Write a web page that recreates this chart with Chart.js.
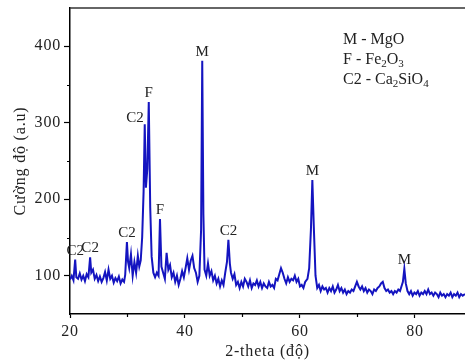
<!DOCTYPE html>
<html>
<head>
<meta charset="utf-8">
<script src="https://cdn.jsdelivr.net/npm/chart.js@4"></script>
<style>
  html, body { margin: 0; padding: 0; background: #fff; }
  #wrap { width: 465px; height: 363px; }
</style>
</head>
<body>
<div id="wrap"><canvas id="xrd" width="465" height="363"></canvas></div>
<script>
// XRD pattern (2-theta in degrees, intensity in a.u.)
const twoTheta = [
  20.0, 20.3, 20.6, 20.9, 21.1, 21.4, 21.7, 22.0, 22.3, 22.6,
  22.9, 23.2, 23.5, 23.7, 24.0, 24.3, 24.6, 24.9, 25.2, 25.5,
  25.8, 26.1, 26.4, 26.7, 27.0, 27.3, 27.6, 27.9, 28.2, 28.5,
  28.8, 29.1, 29.4, 29.6, 29.9, 30.1, 30.3, 30.6, 30.9, 31.2,
  31.5, 31.8, 32.05, 32.3, 32.55, 32.8, 33.0, 33.2, 33.45, 33.7,
  33.95, 34.2, 34.5, 34.8, 35.1, 35.4, 35.65, 35.9, 36.2, 36.5,
  36.8, 37.1, 37.4, 37.7, 38.0, 38.3, 38.6, 38.9, 39.2, 39.5,
  39.8, 40.1, 40.4, 40.7, 41.0, 41.3, 41.6, 41.9, 42.2, 42.5,
  42.8, 43.0, 43.2, 43.4, 43.7, 44.0, 44.3, 44.6, 44.9, 45.2,
  45.5, 45.8, 46.1, 46.4, 46.7, 47.0, 47.3, 47.55, 47.8, 48.0,
  48.3, 48.6, 48.9, 49.2, 49.5, 49.8, 50.1, 50.4, 50.7, 51.0,
  51.3, 51.6, 51.9, 52.2, 52.5, 52.8, 53.1, 53.4, 53.7, 54.0,
  54.3, 54.6, 54.9, 55.2, 55.5, 55.8, 56.1, 56.4, 56.7, 57.0,
  57.3, 57.6, 57.9, 58.2, 58.5, 58.8, 59.1, 59.4, 59.7, 60.0,
  60.3, 60.6, 60.9, 61.3, 61.6, 61.9, 62.15, 62.4, 62.7, 63.0,
  63.3, 63.6, 63.9, 64.2, 64.5, 64.8, 65.1, 65.4, 65.7, 66.0,
  66.3, 66.6, 66.9, 67.2, 67.5, 67.8, 68.1, 68.4, 68.7, 69.0,
  69.3, 69.6, 69.9, 70.2, 70.5, 70.8, 71.1, 71.4, 71.7, 72.0,
  72.3, 72.6, 72.9, 73.2, 73.5, 73.8, 74.1, 74.4, 74.7, 75.0,
  75.3, 75.6, 75.9, 76.2, 76.5, 76.8, 77.1, 77.4, 77.9, 78.15,
  78.4, 78.7, 79.0, 79.3, 79.6, 79.9, 80.2, 80.5, 80.8, 81.1,
  81.4, 81.7, 82.0, 82.3, 82.6, 82.9, 83.2, 83.5, 83.8, 84.1,
  84.4, 84.7, 85.0, 85.3, 85.6, 85.9, 86.2, 86.5, 86.8, 87.1,
  87.4, 87.7, 88.0, 88.3, 88.7
];
const intensity = [
  95, 100, 94, 121, 98, 96, 103, 95, 100, 93,
  102, 98, 124, 104, 108, 96, 101, 93, 99, 92,
  97, 105, 94, 108, 96, 100, 91, 97, 93, 99,
  90, 95, 92, 101, 144, 118, 110, 128, 100, 118,
  104, 126, 112, 120, 150, 210, 298, 215, 240, 327,
  190, 125, 104, 98, 104, 100, 174, 112, 104, 96,
  130, 108, 114, 98, 104, 92, 100, 88, 96, 106,
  98, 110, 123, 108, 120, 126, 110, 104, 92, 100,
  160, 381, 180, 108, 100, 116, 100, 106, 94, 100,
  90, 96, 86, 94, 88, 104, 118, 147, 116, 104,
  96, 102, 88, 92, 84, 92, 86, 96, 92, 86,
  94, 84, 90, 88, 94, 86, 92, 84, 90, 86,
  84, 92, 86, 88, 84, 96, 94, 102, 110, 104,
  96, 90, 98, 92, 96, 94, 100, 92, 96, 86,
  88, 84, 92, 96, 110, 160, 225, 165, 100, 84,
  88, 80, 86, 82, 84, 78, 84, 80, 86, 78,
  82, 88, 80, 84, 78, 82, 76, 80, 78, 82,
  80, 86, 92, 86, 82, 86, 80, 84, 78, 82,
  80, 76, 82, 80, 84, 86, 90, 92, 84, 80,
  82, 78, 80, 76, 80, 78, 82, 80, 92, 109,
  90, 80, 76, 80, 74, 78, 76, 80, 74, 78,
  76, 80, 76, 82, 76, 78, 74, 78, 76, 72,
  78, 74, 76, 72, 76, 74, 78, 72, 76, 74,
  78, 72, 76, 74, 76
];

const xTicks = [20, 40, 60, 80];
const xMinorTicks = [30, 50, 70];
const yTicks = [100, 200, 300, 400];
const yMinorTicks = [150, 250, 350];

// phase marks above the peaks
const peakLabels = [
  { text: 'C2', theta: 20.9, value: 121 },
  { text: 'C2', theta: 23.5, value: 124 },
  { text: 'C2', theta: 29.9, value: 144 },
  { text: 'C2', theta: 33.0, value: 298, side: 'left' },
  { text: 'F', theta: 33.7, value: 327 },
  { text: 'F', theta: 35.65, value: 174 },
  { text: 'M', theta: 43.0, value: 381 },
  { text: 'C2', theta: 47.55, value: 147 },
  { text: 'M', theta: 62.15, value: 225 },
  { text: 'M', theta: 78.15, value: 109 }
];

// legend lines: [text, isSubscript]
const phaseKey = [
  [['M - MgO', false]],
  [['F - Fe', false], ['2', true], ['O', false], ['3', true]],
  [['C2 - Ca', false], ['2', true], ['SiO', false], ['4', true]]
];

const SERIF = "'Liberation Serif', 'Times New Roman', serif";
const INK = '#222';

// the source figure's axis text is set a little wide
const wideText = {
  id: 'wideText',
  beforeDraw(chart) { chart.ctx.letterSpacing = '0.8px'; },
  afterDatasetsDraw(chart) { chart.ctx.letterSpacing = '0px'; }
};

const xrdDecor = {
  id: 'xrdDecor',
  afterDraw(chart) {
    const { ctx, chartArea: a, scales: { x, y } } = chart;
    ctx.save();
    ctx.letterSpacing = '0px';

    // top frame line
    ctx.strokeStyle = '#333';
    ctx.lineWidth = 1.5;
    ctx.beginPath();
    ctx.moveTo(a.left, a.top);
    ctx.lineTo(a.right, a.top);
    ctx.stroke();

    // minor ticks
    ctx.strokeStyle = '#000';
    ctx.lineWidth = 1.2;
    ctx.beginPath();
    xMinorTicks.forEach(v => {
      const px = Math.round(x.getPixelForValue(v)) + 0.5;
      ctx.moveTo(px, a.bottom);
      ctx.lineTo(px, a.bottom + 3);
    });
    yMinorTicks.forEach(v => {
      const py = Math.round(y.getPixelForValue(v)) + 0.5;
      ctx.moveTo(a.left, py);
      ctx.lineTo(a.left - 3, py);
    });
    ctx.stroke();

    // peak labels
    ctx.fillStyle = INK;
    ctx.font = '15px ' + SERIF;
    ctx.textBaseline = 'alphabetic';
    peakLabels.forEach(l => {
      const px = x.getPixelForValue(l.theta);
      const py = y.getPixelForValue(l.value);
      if (l.side === 'left') {
        ctx.textAlign = 'right';
        ctx.fillText(l.text, px - 1, py - 2);
      } else {
        ctx.textAlign = 'center';
        ctx.fillText(l.text, px, py - 5);
      }
    });

    // phase key, top right
    ctx.textAlign = 'left';
    phaseKey.forEach((line, i) => {
      let cx = 343;
      const base = 44 + i * 20;
      line.forEach(([txt, sub]) => {
        ctx.font = (sub ? '11px ' : '16px ') + SERIF;
        ctx.fillText(txt, cx, sub ? base + 3 : base);
        cx += ctx.measureText(txt).width;
      });
    });

    ctx.restore();
  }
};

new Chart(document.getElementById('xrd'), {
  type: 'line',
  data: {
    datasets: [{
      data: twoTheta.map((t, i) => ({ x: t, y: intensity[i] })),
      borderColor: '#1414c0',
      borderWidth: 2,
      pointRadius: 0,
      tension: 0,
      fill: false
    }]
  },
  options: {
    responsive: false,
    animation: false,
    devicePixelRatio: 1,
    layout: { padding: { top: 8, right: 0, left: 0, bottom: 0 } },
    plugins: { legend: { display: false }, tooltip: { enabled: false } },
    scales: {
      x: {
        type: 'linear',
        min: 20,
        max: 88.7,
        afterBuildTicks: s => { s.ticks = xTicks.map(v => ({ value: v })); },
        afterFit: s => { s.height = 49; s.paddingRight = 0; },
        grid: { drawOnChartArea: false, drawTicks: true, tickLength: 4, tickColor: '#000', tickWidth: 1.2 },
        border: { color: '#000', width: 1.5 },
        ticks: { color: INK, font: { family: SERIF, size: 16 }, padding: 4, maxRotation: 0 },
        title: { display: true, text: '2-theta (độ)', color: INK, font: { family: SERIF, size: 16 }, padding: { top: 0, bottom: 2 } }
      },
      y: {
        min: 50,
        max: 450,
        afterBuildTicks: s => { s.ticks = yTicks.map(v => ({ value: v })); },
        afterFit: s => { s.width = 70; s.paddingTop = 0; s.paddingBottom = 0; },
        grid: { drawOnChartArea: false, drawTicks: true, tickLength: 6, tickColor: '#000', tickWidth: 1.2 },
        border: { color: '#000', width: 1.5 },
        ticks: { color: INK, font: { family: SERIF, size: 16 }, padding: 3 },
        title: { display: true, text: 'Cường độ (a.u)', color: INK, font: { family: SERIF, size: 16 }, padding: { top: 11, bottom: 0 } }
      }
    }
  },
  plugins: [wideText, xrdDecor]
});
</script>
</body>
</html>
